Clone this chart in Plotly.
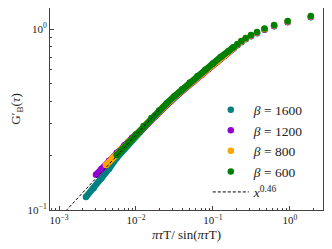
import plotly.graph_objects as go

# ---- data (x = πτT/sin(πτT), y = G'_B(τ)) ----
# sparse top points (identical x for all β)
x_sparse = [0.208, 0.234, 0.267, 0.312, 0.374, 0.468, 0.623, 0.935, 1.87]

teal_x_dense = [0.002239, 0.002818, 0.003548, 0.004467, 0.005623, 0.007079, 0.008913,
                0.01122, 0.01413, 0.01778, 0.02239, 0.02818, 0.03548, 0.04467,
                0.05623, 0.07079, 0.08913, 0.1122, 0.1413, 0.187]
teal_y_dense = [0.1180, 0.1324, 0.1493, 0.1690, 0.1941, 0.2178, 0.2432,
                0.2704, 0.2992, 0.3311, 0.3648, 0.3999, 0.4365, 0.4764,
                0.5176, 0.5623, 0.6095, 0.6607, 0.7161, 0.7834]
teal_y_sparse = [0.813, 0.845, 0.878, 0.912, 0.947, 0.990, 1.035, 1.090, 1.161]

purple_x_dense = [0.003020, 0.003548, 0.004467, 0.005623, 0.007079, 0.008913,
                  0.01122, 0.01413, 0.01778, 0.02239, 0.02818, 0.03548, 0.04467,
                  0.05623, 0.07079, 0.08913, 0.1122, 0.1413, 0.187]
purple_y_dense = [0.1567, 0.1687, 0.1871, 0.2070, 0.2280, 0.2506,
                  0.2716, 0.3006, 0.3327, 0.3664, 0.3999, 0.4365, 0.4742,
                  0.5152, 0.5585, 0.6053, 0.6561, 0.7112, 0.7852]
purple_y_sparse = [0.817, 0.849, 0.882, 0.916, 0.951, 0.995, 1.040, 1.094, 1.166]

orange_x_dense = [0.004074, 0.005012, 0.006310, 0.007943, 0.01000,
                  0.01413, 0.01778, 0.02239, 0.02818, 0.03548, 0.04467,
                  0.05623, 0.07079, 0.08913, 0.1122, 0.1413, 0.187]
orange_y_dense = [0.1770, 0.1945, 0.2158, 0.2388, 0.2594,
                  0.3027, 0.3350, 0.3690, 0.4027, 0.4395, 0.4775,
                  0.5188, 0.5623, 0.6095, 0.6607, 0.7161, 0.7889]
orange_y_sparse = [0.820, 0.852, 0.886, 0.921, 0.955, 0.999, 1.045, 1.099, 1.172]

green_x_dense = [0.00562, 0.00631, 0.00794, 0.0100, 0.01259, 0.01585, 0.01995,
                 0.0251, 0.0316, 0.0398, 0.0501, 0.0631, 0.0794, 0.100,
                 0.1259, 0.1585, 0.187]
green_y_dense = [0.2014, 0.2123, 0.2360, 0.2624, 0.2911, 0.3221, 0.3548,
                 0.3890, 0.4256, 0.4645, 0.5058, 0.5495, 0.5957, 0.6457,
                 0.6998, 0.7534, 0.7962]
green_y_sparse = [0.826, 0.858, 0.892, 0.927, 0.962, 1.006, 1.052, 1.107, 1.180]

fit_x = [0.001, 0.02]
fit_y = [0.090, 0.357]

series = [
    ("<i>β</i> = 1600", "#008080", teal_x_dense, teal_y_dense, teal_y_sparse),
    ("<i>β</i> = 1200", "#9400D3", purple_x_dense, purple_y_dense, purple_y_sparse),
    ("<i>β</i> = 800", "#FFA500", orange_x_dense, orange_y_dense, orange_y_sparse),
    ("<i>β</i> = 600", "#008000", green_x_dense, green_y_dense, green_y_sparse),
]

x_tickvals = [1e-3, 1e-2, 1e-1, 1e0]
x_ticktext = ["10<sup>−3</sup>", "10<sup>−2</sup>", "10<sup>−1</sup>", "10<sup>0</sup>"]
y_tickvals = [1e-1, 1e0]
y_ticktext = ["10<sup>−1</sup>", "10<sup>0</sup>"]

MS = 6.5
fig = go.Figure()
for name, col, xd, yd, ys in series:
    fig.add_trace(go.Scatter(x=xd, y=yd, mode="lines", line=dict(color=col, width=MS),
                             showlegend=False, hoverinfo="skip"))
    fig.add_trace(go.Scatter(x=xd + x_sparse, y=yd + ys, mode="markers", name=name,
                             marker=dict(color=col, size=MS, line=dict(width=0))))

fig.add_trace(go.Scatter(x=fit_x, y=fit_y, mode="lines", name="<i>x</i><sup>0.46</sup>",
                         line=dict(color="black", width=1, dash="3px,2px")))

minor_vals = [m * 10 ** e for e in range(-4, 1) for m in range(2, 10)]

font = "Liberation Serif"
fig.update_layout(
    width=324, height=241,
    margin=dict(l=42, r=9, t=0, b=39),
    paper_bgcolor="white", plot_bgcolor="white",
    font=dict(family=font, size=11, color="#222"),
    showlegend=True,
    legend=dict(x=0.578, y=0.572, xanchor="left", yanchor="top",
                bgcolor="rgba(0,0,0,0)", font=dict(size=13.5, family=font),
                itemsizing="trace", itemwidth=36),
    xaxis=dict(type="log", range=[-3.117, 0.43], showgrid=False, zeroline=False,
               automargin=False,
               showline=True, linecolor="#444", linewidth=1, mirror=True,
               ticks="inside", ticklen=4, tickcolor="#444",
               tickvals=x_tickvals, ticktext=x_ticktext,
               minor=dict(tickvals=minor_vals, ticks="inside", ticklen=2, tickcolor="#444"),
               title=dict(text="<i>πτ</i>T/ sin(<i>πτ</i>T)", font=dict(size=13), standoff=4)),
    yaxis=dict(type="log", range=[-1, 0.116], showgrid=False, zeroline=False,
               automargin=False,
               showline=True, linecolor="#444", linewidth=1, mirror=True,
               ticks="inside", ticklen=4, tickcolor="#444",
               tickvals=y_tickvals, ticktext=y_ticktext,
               minor=dict(tickvals=minor_vals, ticks="inside", ticklen=2, tickcolor="#444"),
               title=dict(text="G′<sub>B</sub>(<i>τ</i>)", font=dict(size=13), standoff=6)),
)
fig.write_html("out.html")
